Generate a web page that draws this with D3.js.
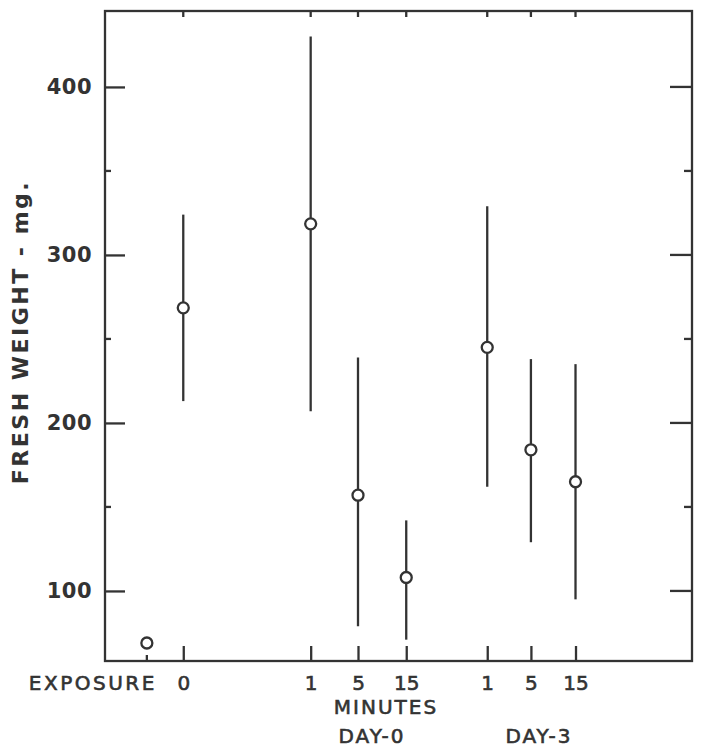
<!DOCTYPE html>
<html>
<head>
<meta charset="utf-8">
<script src="https://cdn.jsdelivr.net/npm/d3@7"></script>
<style>
  body { margin: 0; background: #fff; }
  svg text { font-family: "DejaVu Sans", sans-serif; fill: #333; }
</style>
</head>
<body>
<div id="chart"></div>
<script>
/* data: fresh weight (mg), mean and +/- range */
const columns   = ["control", "0", "1", "5", "15", "1", "5", "15"];
const groups    = ["none", "day0", "day0", "day0", "day0", "day3", "day3", "day3"];
const axisPos   = [0, 0.8, 3.6, 4.64, 5.7, 7.48, 8.44, 9.42];   // place along exposure axis
const means     = [69, 268.5, 318.5, 157, 108, 245, 184, 165];
const uppers    = [null, 324, 430, 239, 142, 329, 238, 235];
const lowers    = [null, 213, 207, 79, 71, 162, 129, 95];
const majorY    = [100, 200, 300, 400];
const minorY    = [150, 250, 350];

document.addEventListener("DOMContentLoaded", function(){

  const width = 704, height = 755;
  const left = 105, right = 692, top = 11, bottom = 661;
  const ink = "#333";

  const svg = d3.select("#chart").append("svg")
    .attr("width", width)
    .attr("height", height);

  const x = d3.scaleLinear().domain([-0.92, 11.98]).range([left, right]);
  const y = d3.scaleLinear().domain([58.3, 445.2]).range([bottom, top]);

  const rows = columns.map((c, i) => ({
    label: c, group: groups[i], pos: axisPos[i],
    mean: means[i], hi: uppers[i], lo: lowers[i]
  }));
  const expo = rows.filter(d => d.group !== "none");

  /* frame */
  svg.append("rect")
    .attr("x", left).attr("y", top)
    .attr("width", right - left).attr("height", bottom - top)
    .attr("fill", "none").attr("stroke", ink).attr("stroke-width", 2.3);

  /* y axis, ticks pointing inside */
  const yAxis = svg.append("g")
    .attr("transform", `translate(${left},0)`)
    .call(d3.axisLeft(y).tickValues(majorY).tickSizeInner(-20).tickSizeOuter(0).tickPadding(13));
  yAxis.select(".domain").remove();
  yAxis.selectAll("line").attr("stroke", ink).attr("stroke-width", 2.3);
  yAxis.selectAll("text")
    .style("font-size", "21px").style("font-weight", "bold")
    .style("letter-spacing", "0.5px").attr("fill", ink);

  svg.append("g").selectAll("line").data(minorY).join("line")
    .attr("x1", left).attr("x2", left + 6)
    .attr("y1", d => y(d)).attr("y2", d => y(d))
    .attr("stroke", ink).attr("stroke-width", 2.3);

  /* right side ticks */
  svg.append("g").selectAll("line").data(majorY.concat(minorY)).join("line")
    .attr("x1", right)
    .attr("x2", d => majorY.includes(d) ? right - 22 : right - 8)
    .attr("y1", d => y(d)).attr("y2", d => y(d))
    .attr("stroke", ink).attr("stroke-width", 2.3);

  /* bottom axis */
  const xAxis = svg.append("g")
    .attr("transform", `translate(0,${bottom})`)
    .call(d3.axisBottom(x).tickValues(expo.map(d => d.pos))
      .tickFormat((d, i) => expo[i].label)
      .tickSizeInner(-15).tickSizeOuter(0).tickPadding(15));
  xAxis.select(".domain").remove();
  xAxis.selectAll("line").attr("stroke", ink).attr("stroke-width", 2.3);
  xAxis.selectAll("text").style("font-size", "20px")
    .attr("fill", ink).attr("stroke", ink).attr("stroke-width", 0.6);

  /* control tick (short) */
  svg.append("line")
    .attr("x1", x(axisPos[0])).attr("x2", x(axisPos[0]))
    .attr("y1", bottom).attr("y2", bottom - 6)
    .attr("stroke", ink).attr("stroke-width", 2.3);

  /* top ticks */
  svg.append("g").selectAll("line").data(expo).join("line")
    .attr("x1", d => x(d.pos)).attr("x2", d => x(d.pos))
    .attr("y1", top).attr("y2", top + 6)
    .attr("stroke", ink).attr("stroke-width", 2.3);

  /* error bars */
  svg.append("g").selectAll("line").data(rows.filter(d => d.hi != null)).join("line")
    .attr("x1", d => x(d.pos)).attr("x2", d => x(d.pos))
    .attr("y1", d => y(d.hi)).attr("y2", d => y(d.lo))
    .attr("stroke", ink).attr("stroke-width", 2.3);

  /* means */
  svg.append("g").selectAll("circle").data(rows).join("circle")
    .attr("cx", d => x(d.pos)).attr("cy", d => y(d.mean))
    .attr("r", 5.5)
    .attr("fill", "#fff").attr("stroke", ink).attr("stroke-width", 2.3);

  /* axis titles */
  const title = (txt, xx, yy, anchor, spacing) => svg.append("text")
    .attr("x", xx).attr("y", yy)
    .attr("text-anchor", anchor)
    .attr("stroke", ink).attr("stroke-width", 0.6)
    .style("font-size", "20px").style("letter-spacing", spacing)
    .text(txt);

  title("EXPOSURE", x(axisPos[0]) + 10, 690, "end", "2.5px");
  title("MINUTES", x(axisPos[3]) + 28, 714, "middle", "2px");
  title("DAY-0", x(axisPos[3]) + 14, 743, "middle", "2px");
  title("DAY-3", x(axisPos[6]) + 8, 743, "middle", "2px");

  svg.append("text")
    .attr("transform", "translate(28,332) rotate(-90)")
    .attr("text-anchor", "middle")
    .style("font-size", "22px").style("font-weight", "bold")
    .style("letter-spacing", "2.5px")
    .text("FRESH WEIGHT - mg.");
});
</script>
</body>
</html>
